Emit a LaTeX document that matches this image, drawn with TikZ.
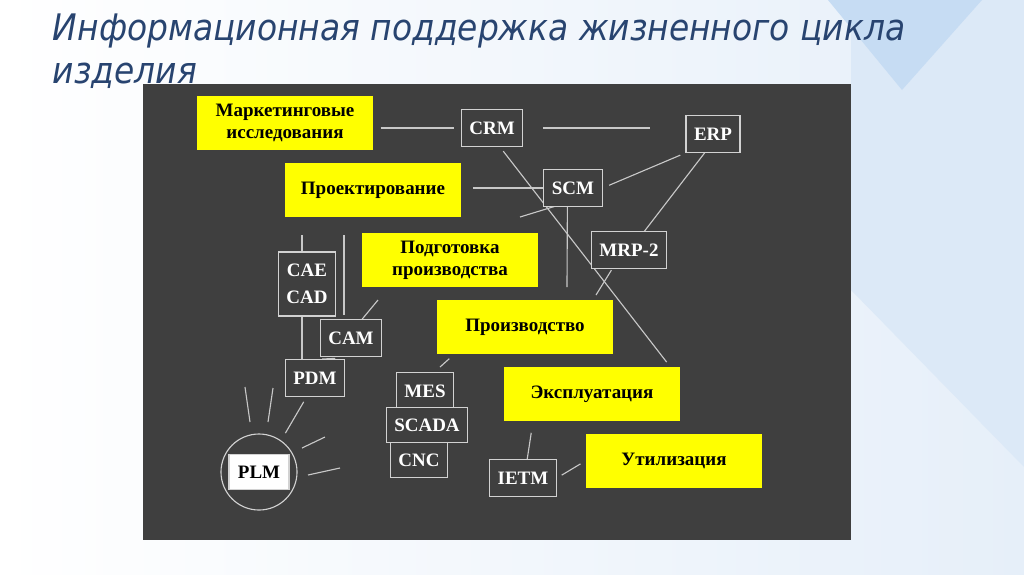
\documentclass[tikz,border=0pt]{standalone}
\usepackage{fontspec}
\setmainfont{Liberation Serif}
\newfontfamily\titlefont{DejaVu Sans}[FakeStretch=0.9]
\usetikzlibrary{positioning}

\definecolor{panel}{HTML}{3F3F3F}
\definecolor{stageyellow}{HTML}{FFFF00}
\definecolor{boxline}{HTML}{D2D2D2}
\definecolor{linkgray}{HTML}{C8C8C8}
\definecolor{titleblue}{HTML}{284470}
\definecolor{skyA}{HTML}{DCE9F7}
\definecolor{skyB}{HTML}{C6DCF3}
\definecolor{skyC}{HTML}{E6EFF9}

\pgfdeclarelayer{bg}
\pgfdeclarelayer{wires}
\pgfsetlayers{bg,wires,main}

\tikzset{
  stage/.style={fill=stageyellow, text=black, align=center,
    font=\bfseries\fontsize{13.5}{15.5}\selectfont,
    minimum width=4.42cm, minimum height=1.37cm, inner sep=0pt},
  sys/.style={draw=boxline, line width=0.8pt, fill=panel, text=white, align=center,
    font=\bfseries\fontsize{13.5}{19}\selectfont,
    minimum height=0.92cm, inner xsep=0.2cm, inner ysep=0pt},
  link/.style={draw=linkgray, line width=0.8pt},
}

\begin{document}
\begin{tikzpicture}[x=0.025cm, y=-0.025cm]
\useasboundingbox (0,0) rectangle (1024,574);

% background and panel
\begin{pgfonlayer}{bg}
\shade[left color=white, right color=skyC] (0,0) rectangle (1024,574);
\fill[skyA] (851,0) -- (1024,0) -- (1024,467) -- (851,290) -- cycle;
\fill[skyB] (828,0) -- (982,0) -- (902,90) -- cycle;
\fill[panel] (143,84) rectangle (851,540);
\end{pgfonlayer}

\node (title1) at (48,40) [anchor=base west, text=titleblue,
  font=\titlefont\itshape\fontsize{26}{30}\selectfont] {Информационная поддержка жизненного цикла};
\node (title2) at (48,83) [anchor=base west, text=titleblue,
  font=\titlefont\itshape\fontsize{26}{30}\selectfont] {изделия};

% life cycle stages
\node (mkt) at (285,123) [stage] {Маркетинговые\\исследования};
\node (design) at (373,190) [stage] {Проектирование};
\node (prep) at (450,260) [stage] {Подготовка\\производства};
\node (prod) at (525,327) [stage] {Производство};
\node (expl) at (592,394) [stage] {Эксплуатация};
\node (util) at (674,461) [stage] {Утилизация};

% systems
\node (crm) at (492,128) [sys] {CRM};
\node (erp) at (713,134) [sys] {ERP};
\node (scm) at (573,188) [sys] {SCM};
\node (mrp) at (629,250) [sys] {MRP-2};
\node (cae) at (307,284) [sys, minimum height=1.6cm] {CAE\\CAD};
\node (cam) at (351,338) [sys] {CAM};
\node (pdm) at (315,378) [sys] {PDM};
\node (mes) at (425,391) [sys] {MES};
\node (scada) at (427,425) [sys, minimum height=0.88cm] {SCADA};
\node (cnc) at (419,460) [sys, minimum height=0.86cm] {CNC};
\node (ietm) at (523,478) [sys] {IETM};
\node (plm) at (259,472) [circle, draw=boxline, line width=0.8pt, minimum size=1.9cm] {};
\node (plmtxt) at (plm) [sys, fill=white, text=black, minimum width=1.5cm, minimum height=0.87cm] {PLM};

% free ends
\coordinate (mrpend) at (596,295);
\coordinate (scmend) at (567,287);
\coordinate (scmstub) at (520,217);
\coordinate (caetop) at (302,235);
\coordinate (sideA) at (344,235);
\coordinate (sideB) at (344,315);
\coordinate (camend) at (378,300);
\coordinate (mesend) at (440,367);

\begin{pgfonlayer}{wires}
\draw[link, shorten <=5pt, shorten >=5pt] (mkt.east |- crm.west) -- (crm.west);
\draw[link, shorten <=14pt, shorten >=25pt] (crm.east) -- (erp.west |- crm.east);
\draw[link, shorten <=8pt] (design.east |- scm.west) -- (scm.west);
\draw[link, shorten <=5pt, shorten >=4pt] (scm.east) -- (erp.south west);
\draw[link] ([xshift=-6pt]erp.south) -- ([xshift=8pt, yshift=-4pt]mrp.north);
\draw[link, shorten <=1pt] ([xshift=-12pt]mrp.south) -- (mrpend);
\draw[link] ([xshift=-4pt]scm.south) -- (scmend);
\draw[link] ([xshift=8pt, yshift=-3pt]crm.south) -- ([xshift=-10pt, yshift=3pt]expl.north east);
\draw[link] ([xshift=10pt, yshift=1pt]scm.south west) -- (scmstub);
\draw[link] (caetop) -- (caetop |- pdm.north);
\draw[link] (sideA) -- (sideB);
\draw[link] ([xshift=8pt]cam.north) -- (camend);
\draw[link] ([xshift=11pt, yshift=-1pt]cam.south west) -- ([xshift=5pt]pdm.north);
\draw[link, shorten <=4pt, shorten >=6pt] ([xshift=-6pt]pdm.south) -- (plm.55);
\draw[link] ([shift={(13,4)}]prod.south west) -- (mesend);
\draw[link, shorten >=8pt] ([xshift=3pt]ietm.north) -- ([xshift=-42pt]expl.south);
\draw[link, shorten <=4pt, shorten >=4pt] (ietm.east) -- (util.west);
% rays round PLM
\foreach \xa/\ya/\xb/\yb in {245/387/250/422, 273/388/268/422, 302/448/325/437, 308/475/340/468}
  \draw[link] (\xa,\ya) -- (\xb,\yb);
\end{pgfonlayer}
\end{tikzpicture}
\end{document}
